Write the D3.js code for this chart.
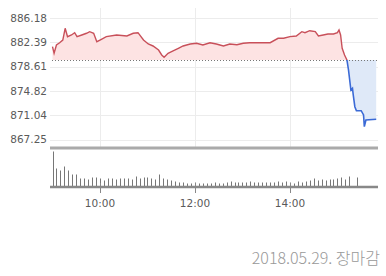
<!DOCTYPE html>
<html>
<head>
<meta charset="utf-8">
<script src="https://cdn.jsdelivr.net/npm/d3@7"></script>
<style>
  body { margin: 0; background: #fff; }
  svg { display: block; }
</style>
</head>
<body>
<div id="chart"></div>
<script>
// intraday index price (time, value)
const priceTimes = ["09:00","09:02","09:05","09:09","09:13","09:16","09:19","09:24","09:28","09:31",
  "09:37","09:43","09:47","09:52","09:56","10:00","10:08","10:21","10:34","10:42",
  "10:48","10:55","11:01","11:07","11:14","11:18","11:21","11:26","11:33","11:39",
  "11:45","11:54","12:02","12:10","12:19","12:27","12:36","12:44","12:53","13:01",
  "13:09","13:22","13:35","13:45","13:52","14:00","14:08","14:15","14:19","14:25",
  "14:32","14:36","14:42","14:48","14:55","15:00","15:02","15:04","15:06","15:09",
  "15:12","15:14","15:17","15:19","15:20","15:22","15:24","15:30","15:33","15:34",
  "15:36","15:49"];
const priceValues = [881.71,880.68,881.97,882.33,882.75,884.58,883.27,883.53,883.89,883.27,
  883.53,883.80,884.05,883.80,882.49,882.75,883.27,883.53,883.38,883.80,
  883.89,882.75,882.13,881.82,881.19,880.42,880.06,880.68,881.09,881.46,
  881.82,882.13,882.24,881.97,882.33,882.13,881.82,882.13,882.02,882.24,
  882.33,882.33,882.33,883.02,883.02,883.27,883.38,884.05,883.89,884.20,
  884.05,883.38,883.53,883.69,883.69,883.89,884.31,883.53,881.46,880.42,
  879.64,878.08,874.96,875.23,874.18,872.36,871.74,871.74,871.07,869.25,
  870.29,870.40];
const prevClose = 879.64;

// y tick labels
const yTicks = [886.18, 882.39, 878.61, 874.82, 871.04, 867.25];
const xTicks = ["10:00", "12:00", "14:00"];

// 5-minute volume bars starting 09:00
const volumes = [35,18,16,20,16,12,12,8,8,7,9,9,8,6,8,8,7,8,8,8,
  7,10,8,9,9,8,7,12,8,7,6,5,4,4,3,3,4,3,3,3,
  3,4,3,3,4,5,4,4,4,4,5,4,4,4,4,4,4,5,4,5,
  4,3,5,4,5,6,8,6,7,6,7,7,8,9,7,10,0,9];

const dateLabel = "2018.05.29. 장마감";

const width = 386, height = 276;
const parse = d3.timeParse("%H:%M");

const svg = d3.select("#chart").append("svg")
  .attr("width", width)
  .attr("height", height)
  .style("font-family", "'DejaVu Sans', sans-serif");

const x = d3.scaleTime()
  .domain([parse("09:00"), parse("15:50")])
  .range([52.5, 377]);

const y = d3.scaleLinear()
  .domain([867.25, 886.18])
  .range([139.5, 18]);

const yVol = d3.scaleLinear()
  .domain([0, d3.max(volumes)])
  .range([186.5, 151.5]);

const left = 50, right = 378;

// horizontal grid + y labels
svg.append("g").selectAll("line")
  .data(yTicks)
  .join("line")
  .attr("x1", left).attr("x2", right)
  .attr("y1", d => Math.round(y(d)) + 0.5)
  .attr("y2", d => Math.round(y(d)) + 0.5)
  .attr("stroke", "#ececec");

svg.append("g").selectAll("text")
  .data(yTicks)
  .join("text")
  .attr("x", 47)
  .attr("y", d => y(d))
  .attr("dy", "0.35em")
  .attr("text-anchor", "end")
  .attr("font-size", 10.5)
  .attr("fill", "#5a5a5a")
  .text(d => d.toFixed(2));

// vertical grid
svg.append("g").selectAll("line")
  .data(xTicks)
  .join("line")
  .attr("x1", d => Math.round(x(parse(d))) + 0.5)
  .attr("x2", d => Math.round(x(parse(d))) + 0.5)
  .attr("y1", 8).attr("y2", 147)
  .attr("stroke", "#ececec");

// price area / line split at previous close
const data = priceTimes.map((t, i) => ({ t: parse(t), v: priceValues[i] }));
const base = y(prevClose);

const defs = svg.append("defs");
defs.append("clipPath").attr("id", "above")
  .append("rect").attr("x", 0).attr("y", 0).attr("width", width).attr("height", base);
defs.append("clipPath").attr("id", "below")
  .append("rect").attr("x", 0).attr("y", base).attr("width", width).attr("height", height - base);

const area = d3.area()
  .x(d => x(d.t))
  .y0(base)
  .y1(d => y(d.v));

const line = d3.line()
  .x(d => x(d.t))
  .y(d => y(d.v));

svg.append("path").datum(data)
  .attr("clip-path", "url(#above)")
  .attr("fill", "#fde3e3")
  .attr("d", area);
svg.append("path").datum(data)
  .attr("clip-path", "url(#below)")
  .attr("fill", "#dfe9f8")
  .attr("d", area);

// previous close dotted line
svg.append("line")
  .attr("x1", 52).attr("x2", right)
  .attr("y1", Math.round(base) + 0.5).attr("y2", Math.round(base) + 0.5)
  .attr("stroke", "#777")
  .attr("stroke-dasharray", "1,2");

svg.append("path").datum(data)
  .attr("clip-path", "url(#above)")
  .attr("fill", "none")
  .attr("stroke", "#c8505a")
  .attr("stroke-width", 1.4)
  .attr("d", line);
svg.append("path").datum(data)
  .attr("clip-path", "url(#below)")
  .attr("fill", "none")
  .attr("stroke", "#3b6ad6")
  .attr("stroke-width", 1.6)
  .attr("d", line);

// volume panel separators
svg.append("line")
  .attr("x1", left).attr("x2", right)
  .attr("y1", 148).attr("y2", 148)
  .attr("stroke", "#aaa")
  .attr("stroke-width", 3);

svg.append("g").selectAll("line")
  .data(volumes)
  .join("line")
  .attr("x1", (d, i) => Math.round(x(d3.timeMinute.offset(parse("09:00"), i * 5))) + 0.5)
  .attr("x2", (d, i) => Math.round(x(d3.timeMinute.offset(parse("09:00"), i * 5))) + 0.5)
  .attr("y1", yVol(0))
  .attr("y2", d => yVol(d))
  .attr("stroke", "#777")
  .attr("stroke-width", 1);

svg.append("line")
  .attr("x1", left).attr("x2", right)
  .attr("y1", 187).attr("y2", 187)
  .attr("stroke", "#888")
  .attr("stroke-width", 2.5);

// x ticks
const xAxis = svg.append("g");
xAxis.selectAll("line")
  .data(xTicks)
  .join("line")
  .attr("x1", d => Math.round(x(parse(d))) + 0.5)
  .attr("x2", d => Math.round(x(parse(d))) + 0.5)
  .attr("y1", 183).attr("y2", 193)
  .attr("stroke", "#888");
xAxis.selectAll("text")
  .data(xTicks)
  .join("text")
  .attr("x", d => x(parse(d)))
  .attr("y", 203)
  .attr("dy", "0.35em")
  .attr("text-anchor", "middle")
  .attr("font-size", 10.5)
  .attr("fill", "#5a5a5a")
  .text(d => d);

svg.append("text")
  .attr("x", 380)
  .attr("y", 258)
  .attr("dy", "0.35em")
  .attr("text-anchor", "end")
  .attr("font-size", 16)
  .attr("fill", "#999")
  .style("font-family", "'Noto Sans CJK KR', 'DejaVu Sans', sans-serif")
  .style("font-weight", 300)
  .text(dateLabel);
</script>
</body>
</html>
